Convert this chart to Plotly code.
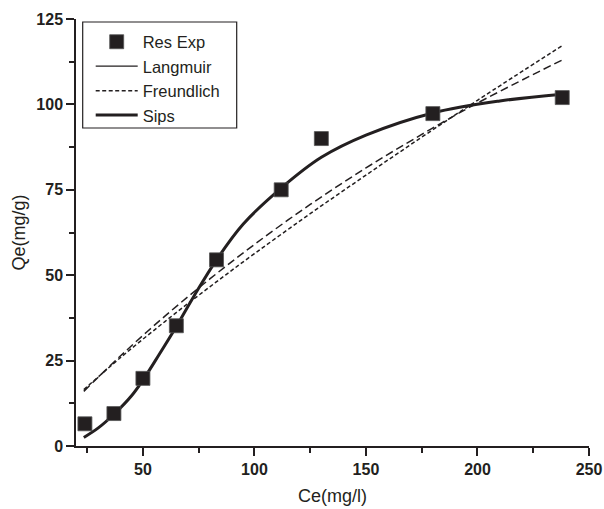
import plotly.graph_objects as go

# Experimental data
ce_exp = [24, 37, 50, 65, 83, 112, 130, 180, 238]
qe_exp = [6.5, 9.5, 19.8, 35.2, 54.5, 75.0, 90.0, 97.3, 102.0]

# Model curves
ce_lang = [23.5, 40, 60, 80, 100, 125, 150, 175, 200, 238]
qe_lang = [16.0, 26.4, 38.1, 48.9, 59.0, 70.7, 81.4, 91.2, 100.4, 113.0]

ce_freu = [23.5, 40, 60, 80, 100, 125, 150, 175, 200, 238]
qe_freu = [16.5, 25.9, 36.5, 46.6, 56.3, 68.0, 79.3, 90.4, 101.2, 117.2]

ce_sips = [23.5, 30, 37, 45, 50, 57, 65, 73, 83, 95, 112, 130, 150, 180, 210, 238]
qe_sips = [2.5, 5.3, 9.3, 14.8, 19.3, 26.5, 35.0, 44.0, 54.5, 65.0, 75.5, 84.5, 91.0, 97.5, 101.0, 103.0]

x_ticks = [50, 100, 150, 200, 250]
y_ticks = [0, 25, 50, 75, 100, 125]

INK = "#231f20"
W, H = 604, 509
L, R, T, B = 76, 15, 19, 63
pw, ph = W - L - R, H - T - B

def px_x(p):
    return (p - L) / pw

def px_y(p):
    return 1 - (p - T) / ph

fig = go.Figure()

fig.add_trace(go.Scatter(x=ce_lang, y=qe_lang, mode="lines", name="Langmuir",
                         line=dict(color=INK, width=1.5, dash="8px,4px", shape="spline"),
                         showlegend=False))
fig.add_trace(go.Scatter(x=[None], y=[None], mode="lines", name="Langmuir",
                         line=dict(color=INK, width=1.3), legendrank=2))
fig.add_trace(go.Scatter(x=ce_freu, y=qe_freu, mode="lines", name="Freundlich",
                         line=dict(color=INK, width=1.5, dash="4px,2.5px", shape="spline"),
                         legendrank=3))
fig.add_trace(go.Scatter(x=ce_sips, y=qe_sips, mode="lines", name="Sips",
                         line=dict(color=INK, width=3, shape="spline", smoothing=1.0),
                         legendrank=4))
fig.add_trace(go.Scatter(x=ce_exp, y=qe_exp, mode="markers", name="Res Exp",
                         marker=dict(symbol="square", size=14, color=INK,
                                     line=dict(color="#555555", width=0.8)),
                         legendrank=1))

axis_common = dict(
    showline=True, linecolor=INK, linewidth=1.5,
    ticks="outside", ticklen=8, tickwidth=1.5, tickcolor=INK,
    showgrid=False, zeroline=False, mirror=False, automargin=False,
    tickfont=dict(family="Liberation Sans, Arial", size=16, color=INK, weight="bold"),
)

fig.update_layout(
    width=W, height=H,
    margin=dict(l=L, r=R, t=T, b=B),
    paper_bgcolor="white", plot_bgcolor="white",
    font=dict(family="Liberation Sans, Arial", color=INK),
    xaxis=dict(range=[20, 250], tickvals=x_ticks,
               minor=dict(dtick=25, tick0=0, ticks="outside", ticklen=5, tickwidth=1.5, tickcolor=INK),
               **axis_common),
    yaxis=dict(range=[0, 125], tickvals=y_ticks,
               minor=dict(dtick=12.5, tick0=0, ticks="outside", ticklen=5, tickwidth=1.5, tickcolor=INK),
               **axis_common),
    legend=dict(x=px_x(90.7), y=px_y(24.5), xanchor="left", yanchor="top",
                bgcolor="rgba(0,0,0,0)", borderwidth=0, itemwidth=42,
                traceorder="normal",
                font=dict(family="Liberation Sans, Arial", size=16.5, color=INK)),
    shapes=[dict(type="rect", xref="paper", yref="paper",
                 x0=px_x(82.7), x1=px_x(236.7), y0=px_y(128), y1=px_y(22),
                 line=dict(color=INK, width=1.2), fillcolor="rgba(0,0,0,0)")],
    annotations=[
        dict(text="Ce(mg/l)", xref="paper", yref="paper", x=0.5, y=px_y(496),
             xanchor="center", yanchor="middle", showarrow=False,
             font=dict(family="Liberation Sans, Arial", size=18, color=INK)),
        dict(text="Qe(mg/g)", xref="paper", yref="paper", x=px_x(18), y=0.5,
             xanchor="center", yanchor="middle", showarrow=False, textangle=-90,
             font=dict(family="Liberation Sans, Arial", size=18, color=INK)),
    ],
)

fig.write_html("out.html")
